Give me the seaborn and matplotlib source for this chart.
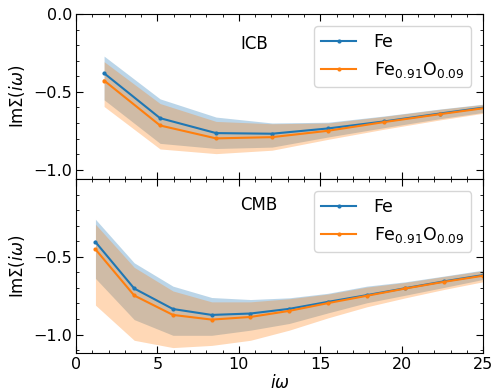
import numpy as np
import pandas as pd
import matplotlib
matplotlib.use('Agg')
import matplotlib.pyplot as plt
import seaborn as sns
from matplotlib.ticker import MultipleLocator

# Matsubara frequencies for each boundary
x_icb = [1.72, 5.16, 8.60, 12.04, 15.48, 18.92, 22.36, 25.80]
x_cmb = [1.19, 3.57, 5.95, 8.33, 10.71, 13.09, 15.47, 17.85, 20.23, 22.61, 24.99]

# ICB: mean and spread of Im Sigma
icb_fe = [-0.380, -0.669, -0.765, -0.769, -0.735, -0.690, -0.639, -0.590]
icb_fe_hi = [-0.270, -0.545, -0.662, -0.700, -0.695, -0.655, -0.610, -0.570]
icb_fe_lo = [-0.551, -0.831, -0.864, -0.855, -0.790, -0.730, -0.672, -0.620]
icb_feo = [-0.427, -0.716, -0.799, -0.791, -0.750, -0.694, -0.643, -0.594]
icb_feo_hi = [-0.306, -0.575, -0.690, -0.705, -0.700, -0.658, -0.612, -0.572]
icb_feo_lo = [-0.594, -0.867, -0.897, -0.875, -0.805, -0.740, -0.680, -0.625]

# CMB
cmb_fe = [-0.405, -0.704, -0.836, -0.874, -0.865, -0.835, -0.790, -0.747, -0.702, -0.658, -0.618]
cmb_fe_hi = [-0.259, -0.539, -0.689, -0.762, -0.775, -0.764, -0.735, -0.689, -0.661, -0.624, -0.586]
cmb_fe_lo = [-0.639, -0.904, -1.005, -1.005, -0.972, -0.929, -0.861, -0.796, -0.747, -0.697, -0.646]
cmb_feo = [-0.452, -0.749, -0.874, -0.904, -0.887, -0.848, -0.798, -0.751, -0.704, -0.661, -0.622]
cmb_feo_hi = [-0.291, -0.568, -0.720, -0.790, -0.790, -0.770, -0.740, -0.695, -0.665, -0.627, -0.590]
cmb_feo_lo = [-0.811, -1.037, -1.084, -1.070, -1.037, -0.972, -0.893, -0.822, -0.764, -0.710, -0.661]

labels = ['Fe', r'Fe$_{0.91}$O$_{0.09}$']
colors = ['#1f77b4', '#ff7f0e']

plt.rcParams['font.family'] = ['DejaVu Sans']
plt.rcParams['mathtext.fontset'] = 'dejavusans'

fig = plt.figure(figsize=(4.94, 3.92), dpi=100)
gs = fig.add_gridspec(2, 1, height_ratios=[1.06, 1.12], hspace=0,
                      left=0.154, right=0.978, top=0.964, bottom=0.099)
ax1 = fig.add_subplot(gs[0])
ax2 = fig.add_subplot(gs[1], sharex=ax1)

panels = [
    (ax1, 'ICB', 0.79, x_icb, [(icb_fe, icb_fe_lo, icb_fe_hi), (icb_feo, icb_feo_lo, icb_feo_hi)], (-1.06, 0.0)),
    (ax2, 'CMB', 0.82, x_cmb, [(cmb_fe, cmb_fe_lo, cmb_fe_hi), (cmb_feo, cmb_feo_lo, cmb_feo_hi)], (-1.12, 0.0)),
]

for ax, name, ty, x, series, ylim in panels:
    for (mean, lo, hi), c in zip(series, colors):
        ax.fill_between(x, lo, hi, color=c, alpha=0.3, linewidth=0)
    for (mean, lo, hi), c, lab in zip(series, colors, labels):
        df = pd.DataFrame({'w': x, 'sig': mean})
        sns.lineplot(data=df, x='w', y='sig', ax=ax, color=c, label=lab,
                     marker='o', markersize=3, markeredgewidth=0, linewidth=1.5)
    ax.set_xlim(0, 25)
    ax.set_ylim(*ylim)
    ax.set_ylabel(r'Im$\Sigma(i\omega)$', fontsize=12)
    ax.text(0.403, ty, name, transform=ax.transAxes, fontsize=12)
    ax.legend(loc='upper right', fontsize=12.5, handlelength=2.0, handletextpad=1.0,
              borderaxespad=0.7)
    ax.xaxis.set_major_locator(MultipleLocator(5))
    ax.xaxis.set_minor_locator(MultipleLocator(1))
    ax.yaxis.set_minor_locator(MultipleLocator(0.1))
    ax.tick_params(which='both', direction='in', top=True, right=True, labelsize=11.5)
    ax.tick_params(which='major', length=5, pad=3)
    ax.tick_params(which='minor', length=2.5)

ax1.set_yticks([-1.0, -0.5, 0.0])
ax2.set_yticks([-1.0, -0.5])
ax1.tick_params(labelbottom=False)
ax1.set_xlabel('')
ax2.set_xlabel(r'$i\omega$', fontsize=12, labelpad=1)

fig.savefig('out.png', dpi=100)
